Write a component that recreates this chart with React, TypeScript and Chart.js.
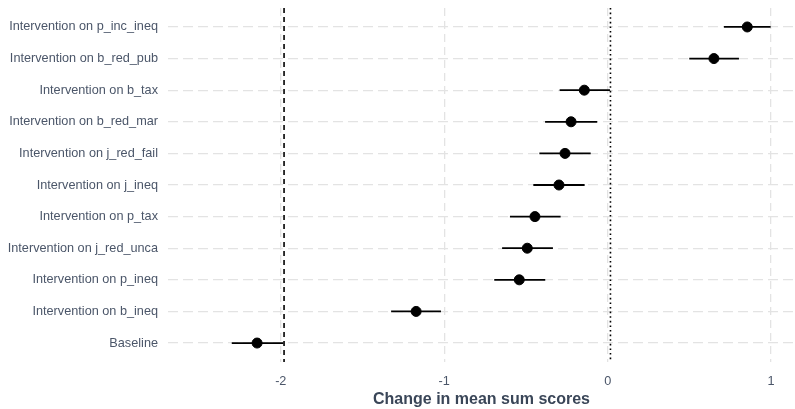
import React, { useEffect, useRef } from "react";
import { Chart, registerables } from "chart.js";

Chart.register(...registerables);

const categories = [
  "Intervention on p_inc_ineq",
  "Intervention on b_red_pub",
  "Intervention on b_tax",
  "Intervention on b_red_mar",
  "Intervention on j_red_fail",
  "Intervention on j_ineq",
  "Intervention on p_tax",
  "Intervention on j_red_unca",
  "Intervention on p_ineq",
  "Intervention on b_ineq",
  "Baseline",
];
const means = [0.854, 0.65, -0.143, -0.224, -0.261, -0.298, -0.445, -0.492, -0.541, -1.172, -2.145];
const lower = [0.711, 0.499, -0.294, -0.383, -0.418, -0.455, -0.598, -0.646, -0.694, -1.325, -2.3];
const upper = [0.997, 0.803, 0.014, -0.064, -0.104, -0.141, -0.288, -0.335, -0.382, -1.02, -1.984];
const xTicks = [-2, -1, 0, 1];
const baselineRef = -1.98;
const zeroRef = 0.017;

const TICK_COLOR = "#4b5669";
const TITLE_COLOR = "#3a4658";

const overlayPlugin = {
  id: "overlay",
  beforeDatasetsDraw(chart: any) {
    const { ctx, chartArea, scales } = chart;
    const xs = scales.x;
    const ys = scales.y;
    ctx.save();
    // reference lines
    ctx.strokeStyle = "#000";
    ctx.lineWidth = 1.6;
    ctx.setLineDash([5, 4]);
    let px = xs.getPixelForValue(baselineRef);
    ctx.beginPath();
    ctx.moveTo(px, chartArea.top);
    ctx.lineTo(px, chartArea.bottom);
    ctx.stroke();
    ctx.setLineDash([1.6, 3]);
    px = xs.getPixelForValue(zeroRef);
    ctx.beginPath();
    ctx.moveTo(px, chartArea.top);
    ctx.lineTo(px, chartArea.bottom);
    ctx.stroke();
    // error bars
    ctx.setLineDash([]);
    ctx.lineWidth = 1.8;
    for (let i = 0; i < categories.length; i++) {
      const y = ys.getPixelForValue(i);
      ctx.beginPath();
      ctx.moveTo(xs.getPixelForValue(lower[i]), y);
      ctx.lineTo(xs.getPixelForValue(upper[i]), y);
      ctx.stroke();
    }
    ctx.restore();
  },
};

export default function App() {
  const ref = useRef<HTMLCanvasElement>(null);
  useEffect(() => {
    document.body.style.margin = "0";
    const chart = new Chart(ref.current!, {
      type: "scatter",
      data: {
        datasets: [
          {
            data: means.map((m, i) => ({ x: m, y: i })),
            backgroundColor: "#000",
            borderColor: "#000",
            pointRadius: 5,
            pointHoverRadius: 5,
            clip: false,
          },
        ],
      },
      options: {
        animation: false,
        responsive: false,
        layout: { autoPadding: false, padding: { top: 8, right: 0, left: 0, bottom: 0 } },
        plugins: { legend: { display: false }, tooltip: { enabled: false } },
        scales: {
          x: {
            type: "linear",
            min: -2.69,
            max: 1.146,
            afterBuildTicks: (s: any) => {
              s.ticks = xTicks.map((v) => ({ value: v }));
            },
            afterFit: (s: any) => {
              s.height = 47;
              s.paddingLeft = 0;
              s.paddingRight = 0;
            },
            ticks: {
              color: TICK_COLOR,
              font: { family: "Liberation Sans, Arial", size: 12.7 },
              padding: 12,
            },
            grid: { color: "#e3e3e3", lineWidth: 1.3, drawTicks: false },
            border: { display: false, dash: [8, 5] },
            title: {
              display: true,
              text: "Change in mean sum scores",
              color: TITLE_COLOR,
              font: { family: "Liberation Sans, Arial", size: 16, weight: "bold" },
              padding: { top: 6, bottom: 0 },
            },
          },
          y: {
            type: "linear",
            min: -0.6,
            max: 10.6,
            reverse: true,
            afterBuildTicks: (s: any) => {
              s.ticks = categories.map((_, i) => ({ value: i }));
            },
            afterFit: (s: any) => {
              s.width = 168;
              s.paddingTop = 0;
              s.paddingBottom = 0;
            },
            ticks: {
              color: TICK_COLOR,
              font: { family: "Liberation Sans, Arial", size: 12.7 },
              padding: 10,
              callback: (v: any) => categories[v as number] ?? "",
            },
            grid: { color: "#e3e3e3", lineWidth: 1.3, drawTicks: false },
            border: { display: false, dash: [10, 5] },
          },
        },
      },
      plugins: [overlayPlugin],
    });
    return () => chart.destroy();
  }, []);
  return <canvas ref={ref} width={795} height={409} style={{ display: "block" }} />;
}
